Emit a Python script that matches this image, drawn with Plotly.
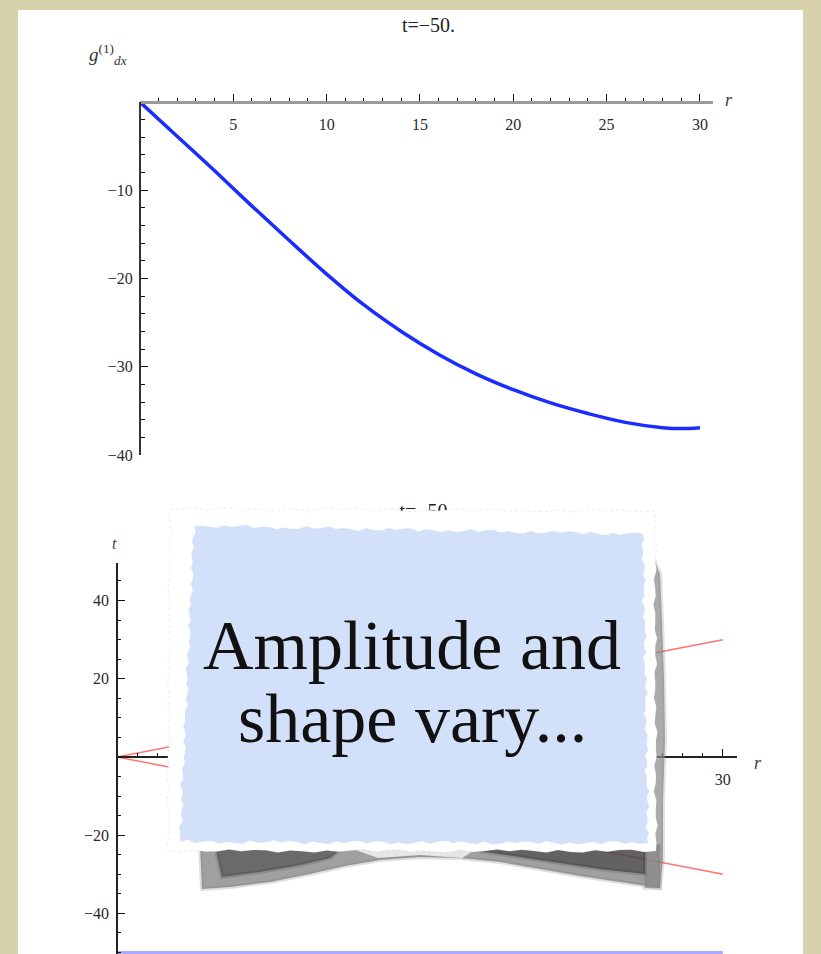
import math
import plotly.graph_objects as go

W, H = 821, 954

# ---------------- data ----------------
r_top = [0, 2, 4, 6, 8, 10, 12, 14, 16, 18, 20, 22, 24, 26, 28, 29, 30]
g_top = [0, -3.9, -7.8, -11.8, -15.7, -19.5, -23.0, -26.0, -28.6, -30.8,
         -32.6, -34.1, -35.3, -36.3, -36.9, -37.0, -36.9]

r_cone = [0, 30]
t_future = [0, 30]
t_past = [0, -30]
r_slice = [0, 30]
t_slice = [-50, -50]

plot_title = "t=−50."
top_xticks = [5, 10, 15, 20, 25, 30]
top_yticks = [-40, -30, -20, -10]
bot_xticks = [5, 10, 15, 20, 25, 30]
bot_yticks = [-40, -20, 20, 40]
box_lines = ["Amplitude and", "shape vary..."]


def px(x):
    return x / W


def py(y):
    return 1 - y / H


SERIF = "Liberation Serif, Times New Roman, serif"
TICKFONT = dict(family=SERIF, size=16, color="#2a2a2a")

fig = go.Figure()

fig.add_trace(go.Scatter(x=r_top, y=g_top, mode="lines", xaxis="x", yaxis="y",
                         line=dict(color="#1a2cff", width=3.5, shape="spline"),
                         hoverinfo="skip"))
fig.add_trace(go.Scatter(x=r_cone, y=t_future, mode="lines", xaxis="x2", yaxis="y2",
                         line=dict(color="rgba(255,40,40,0.65)", width=1.5), hoverinfo="skip"))
fig.add_trace(go.Scatter(x=r_cone, y=t_past, mode="lines", xaxis="x2", yaxis="y2",
                         line=dict(color="rgba(255,40,40,0.65)", width=1.5), hoverinfo="skip"))
fig.add_trace(go.Scatter(x=r_slice, y=t_slice, mode="lines", xaxis="x2", yaxis="y2",
                         line=dict(color="#a9a9ff", width=3), hoverinfo="skip"))
# bottom plot label, drawn as a trace so the torn-paper overlay can cover it
fig.add_trace(go.Scatter(x=[426], y=[513], mode="text", text=[plot_title], xaxis="x3", yaxis="y3",
                         textfont=dict(family=SERIF, size=20, color="#222"),
                         cliponaxis=False, hoverinfo="skip"))

y2_range = [-50.4, 49.6]
y2_dom = [0, py(563)]
y2_zero = y2_dom[0] + (0 - y2_range[0]) / (y2_range[1] - y2_range[0]) * (y2_dom[1] - y2_dom[0])

common = dict(showgrid=False, zeroline=False, showline=True, ticks="inside", automargin=False,
              tickfont=TICKFONT, tickcolor="#111", tickwidth=1, ticklen=7)

fig.update_layout(
    width=W, height=H, autosize=False,
    margin=dict(l=0, r=0, t=0, b=0, pad=0, autoexpand=False),
    paper_bgcolor="#d7d2ab", plot_bgcolor="rgba(0,0,0,0)",
    showlegend=False,
    xaxis=dict(domain=[px(140), px(713)], range=[0, 30.7], anchor="free", position=py(102),
               tickmode="array", tickvals=top_xticks,
               linecolor="#9a9a9a", linewidth=3, ticklabelstandoff=7,
               minor=dict(tickmode="linear", tick0=0, dtick=1, ticks="inside", ticklen=3.5,
                          tickcolor="#111", tickwidth=1),
               **common),
    yaxis=dict(domain=[py(455), py(102)], range=[-40, 0], anchor="free", position=px(140),
               tickmode="array", tickvals=top_yticks,
               linecolor="#333", linewidth=2, ticklabelstandoff=3,
               minor=dict(tickmode="linear", tick0=0, dtick=2, ticks="inside", ticklen=3.5,
                          tickcolor="#111", tickwidth=1),
               **common),
    xaxis2=dict(domain=[px(117), px(737)], range=[0, 30.7], anchor="free", position=y2_zero,
                tickmode="array", tickvals=bot_xticks,
                linecolor="#222", linewidth=1.5, ticklabelstandoff=8,
                minor=dict(tickmode="linear", tick0=0, dtick=1, ticks="inside", ticklen=3.5,
                           tickcolor="#111", tickwidth=1),
                **common),
    yaxis2=dict(domain=y2_dom, range=y2_range, anchor="free", position=px(117),
                tickmode="array", tickvals=bot_yticks,
                linecolor="#222", linewidth=1.5, ticklabelstandoff=4,
                minor=dict(tickmode="linear", tick0=0, dtick=5, ticks="inside", ticklen=3.5,
                           tickcolor="#111", tickwidth=1),
                **common),
    xaxis3=dict(domain=[0, 1], range=[0, W], visible=False, anchor="y3"),
    yaxis3=dict(domain=[0, 1], range=[H, 0], visible=False, anchor="x3"),
)


def jagged(corners, n, amp, seed):
    pts = []
    m = len(corners)
    for s in range(m):
        p0 = corners[s]
        p1 = corners[(s + 1) % m]
        dx, dy = p1[0] - p0[0], p1[1] - p0[1]
        L = math.hypot(dx, dy)
        nx, ny = -dy / L, dx / L
        for k in range(n):
            t = k / n
            o = amp * (0.55 * math.sin(k * 2.3 + seed + s) + 0.3 * math.sin(k * 5.7 + seed * 1.3 + s)
                       + 0.15 * math.sin(k * 11.1 + seed * 0.7))
            if k == 0:
                o = 0
            pts.append((p0[0] + dx * t + nx * o, p0[1] + dy * t + ny * o))
    return "M " + " L ".join(f"{x:.1f},{y:.1f}" for x, y in pts) + " Z"


def poly(points):
    return "M " + " L ".join(f"{x:.1f},{y:.1f}" for x, y in points) + " Z"


def shadow(points, rgb, alpha):
    return dict(type="path", xref="x3", yref="y3", path=poly(points),
                fillcolor=f"rgba({rgb},{alpha})", layer="above",
                line=dict(color=f"rgba({rgb},{alpha * 0.35:.2f})", width=4))


shapes = []
# white slide panel beneath everything
shapes.append(dict(type="rect", xref="paper", yref="paper", x0=px(18), x1=px(803), y0=-0.01, y1=py(10),
                   fillcolor="white", line=dict(width=0), layer="below"))

bottom_shadow = [(200, 845), (660, 845), (660, 888), (620, 882), (580, 876), (540, 869),
                 (500, 862), (460, 858), (420, 857), (380, 860), (345, 866), (310, 874),
                 (270, 882), (230, 887), (202, 889)]
bottom_shadow_core = [(215, 846), (345, 846), (330, 858), (300, 865), (260, 872), (222, 877)]
bottom_shadow_core2 = [(468, 846), (645, 846), (645, 874), (600, 869), (560, 863), (520, 857), (480, 851)]
right_shadow = [(645, 558), (654, 560), (660, 574), (662, 620), (664, 680), (665, 740),
                (663, 800), (663, 860), (660, 888), (645, 888)]
shapes.append(shadow(bottom_shadow, "120,120,120", 0.7))
shapes.append(shadow(right_shadow, "135,135,135", 0.7))
shapes.append(shadow(bottom_shadow_core, "40,40,40", 0.45))
shapes.append(shadow(bottom_shadow_core2, "35,35,35", 0.5))
shapes.append(dict(type="path", xref="x3", yref="y3",
                   path=poly([(350, 848), (478, 848), (462, 858), (420, 855), (378, 858)]),
                   fillcolor="rgba(242,242,242,0.85)", line=dict(width=0), layer="above"))

# white torn paper
paper_corners = [(170, 509), (655, 511), (656, 851), (168, 851)]
shapes.append(dict(type="path", xref="x3", yref="y3", path=jagged(paper_corners, 40, 2.2, 0.4),
                   fillcolor="white", line=dict(color="rgba(185,185,185,0.3)", width=1, dash="dot"),
                   layer="above"))
# light blue card
blue_corners = [(194, 526), (643, 534), (648, 843), (180, 842)]
shapes.append(dict(type="path", xref="x3", yref="y3", path=jagged(blue_corners, 60, 2.6, 1.7),
                   fillcolor="#d3e0fa", line=dict(width=0), layer="above"))

fig.update_layout(shapes=shapes)

ann = []
ann.append(dict(x=px(428), y=py(25), xref="paper", yref="paper", text=plot_title, showarrow=False,
                font=dict(family=SERIF, size=20, color="#222"), xanchor="center", yanchor="middle"))
ann.append(dict(x=px(87), y=py(55), xref="paper", yref="paper",
                text="<i>g</i><sup>(1)</sup><sub><i>dx</i></sub>", showarrow=False,
                font=dict(family=SERIF, size=19, color="#333"), xanchor="left", yanchor="middle"))
ann.append(dict(x=px(729), y=py(100), xref="paper", yref="paper", text="<i>r</i>", showarrow=False,
                font=dict(family=SERIF, size=18, color="#444"), xanchor="center", yanchor="middle"))
ann.append(dict(x=px(115), y=py(543), xref="paper", yref="paper", text="<i>t</i>", showarrow=False,
                font=dict(family=SERIF, size=16, color="#444"), xanchor="center", yanchor="middle"))
ann.append(dict(x=px(758), y=py(763), xref="paper", yref="paper", text="<i>r</i>", showarrow=False,
                font=dict(family=SERIF, size=18, color="#444"), xanchor="center", yanchor="middle"))
ann.append(dict(x=px(412), y=py(645), xref="paper", yref="paper", text=box_lines[0], showarrow=False,
                font=dict(family=SERIF, size=70, color="#111"), xanchor="center", yanchor="middle"))
ann.append(dict(x=px(412), y=py(718), xref="paper", yref="paper", text=box_lines[1], showarrow=False,
                font=dict(family=SERIF, size=70, color="#111"), xanchor="center", yanchor="middle"))
fig.update_layout(annotations=ann)

fig.write_html("out.html", config={"displayModeBar": False},
               post_script="document.body.style.margin='0';")
